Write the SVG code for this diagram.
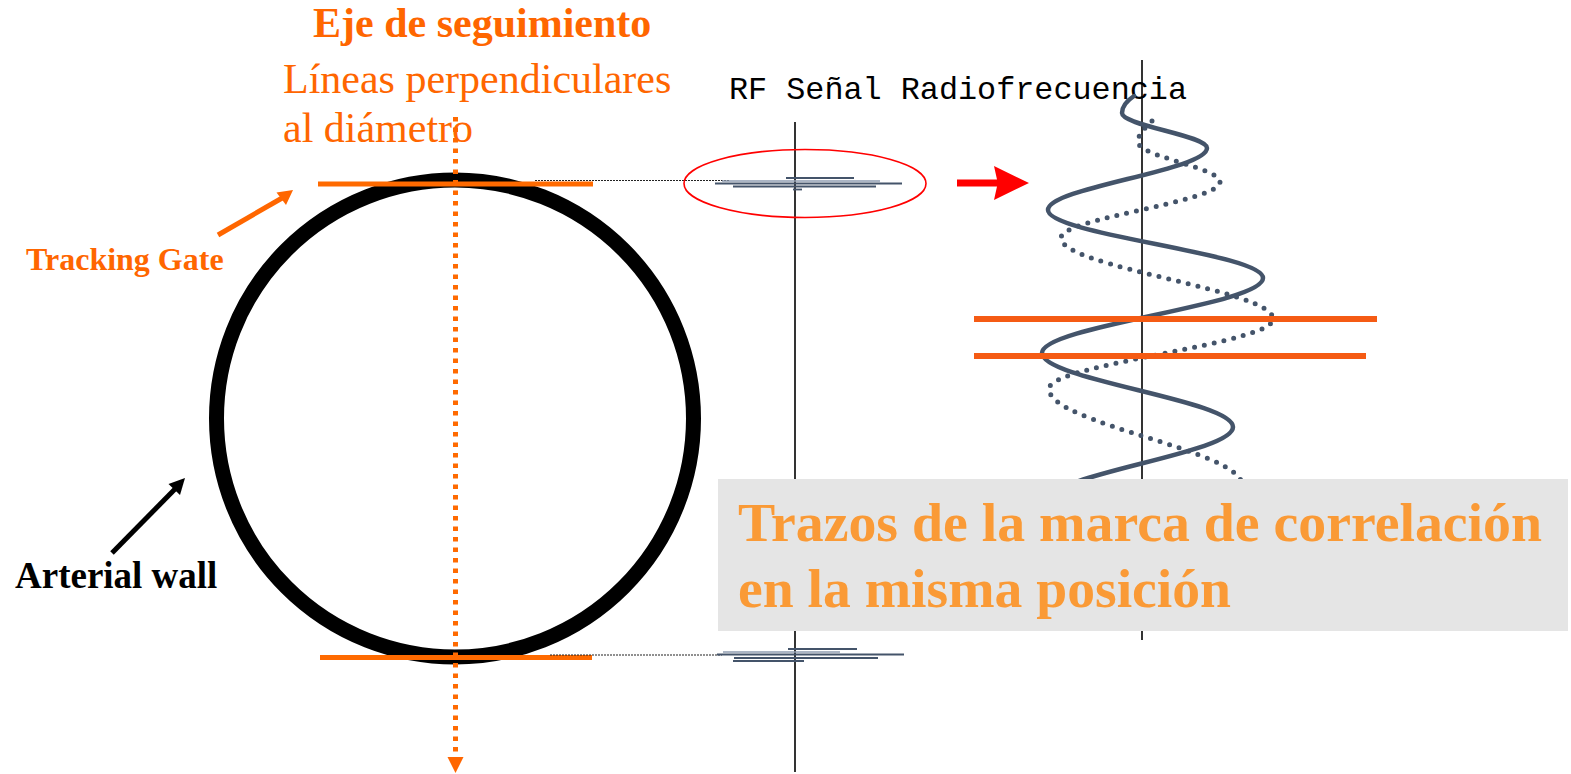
<svg xmlns="http://www.w3.org/2000/svg" width="1571" height="774" viewBox="0 0 1571 774">
<style>
.serif{font-family:"Liberation Serif","Times New Roman",serif}
.bold{font-weight:bold}
.org{fill:#ff6600}
.gate{stroke:#ff6a00;stroke-width:5;fill:none}
.gate2{stroke:#f55b14;stroke-width:6;fill:none}
.axis{stroke:#000;stroke-width:1.6;fill:none}
.thin{stroke:#222;stroke-width:1.2;stroke-dasharray:2 1;fill:none}
.rf{stroke:#44546a;stroke-width:1.8;fill:none}
.rfl{stroke:#8f9db0;stroke-width:1.6;fill:none}
.wave{stroke:#44546a;stroke-width:4.5;fill:none;stroke-linecap:round}
.dots{stroke:#44546a;stroke-width:5;fill:none;stroke-linecap:round;stroke-dasharray:0 10}
</style>
<defs>
<marker id="mOrange" markerWidth="4" markerHeight="4" refX="1" refY="2" orient="auto" markerUnits="strokeWidth"><path d="M0,0 L4,2 L0,4 z" fill="#ff6600"/></marker>
</defs>
<rect width="1571" height="774" fill="#fff"/>

<g id="artery">
<circle cx="455" cy="418.5" r="238.5" fill="none" stroke="#000" stroke-width="15"/>
</g>

<g id="gates-left">
<line class="gate" x1="318" y1="184" x2="593" y2="184"/>
<line class="gate" x1="320" y1="657.5" x2="592" y2="657.5"/>
</g>

<g id="connectors">
<line x1="455.5" y1="117" x2="455.5" y2="757" stroke="#ff6a00" stroke-width="5" stroke-dasharray="4.5 6"/>
<polygon points="447.5,757 463.5,757 455.5,773" fill="#ff6600"/>
<line class="thin" x1="535" y1="180.5" x2="730" y2="180.5"/>
<line class="thin" x1="550" y1="655" x2="722" y2="655"/>
<line x1="218" y1="235" x2="283" y2="197.5" stroke="#ff6600" stroke-width="5"/>
<polygon points="293,190 276.5,192.5 286,205" fill="#ff6600"/>
<line x1="112" y1="553" x2="177" y2="487" stroke="#000" stroke-width="5"/>
<polygon points="185,478 168.5,484 180,495" fill="#000"/>
<polygon points="957,179.5 997,179.5 994,166 1029,183 994,200 997,186.5 957,186.5" fill="#ff0000"/>
</g>

<g id="labels">
<text class="serif bold org" x="313" y="37" font-size="42">Eje de seguimiento</text>
<text class="serif org" x="283" y="93" font-size="42">Líneas perpendiculares</text>
<text class="serif org" x="283" y="142" font-size="42">al diámetro</text>
<text class="serif bold org" x="26" y="270" font-size="32">Tracking Gate</text>
<text class="serif bold" x="15" y="588" font-size="37" fill="#000">Arterial wall</text>
<text x="729" y="99" font-size="32" font-family="'Liberation Mono','Courier New',monospace" fill="#000" textLength="458" lengthAdjust="spacingAndGlyphs">RF Señal Radiofrecuencia</text>
</g>

<g id="rf-signal">
<line class="axis" x1="795" y1="122" x2="795" y2="772"/>
<line class="rfl" x1="722" y1="181" x2="880" y2="181"/>
<line class="rf" x1="786" y1="178" x2="854" y2="178"/>
<line class="rf" x1="715" y1="183.5" x2="902" y2="183.5"/>
<line class="rf" x1="733" y1="186.5" x2="876" y2="186.5"/>
<line class="rf" x1="793" y1="189.5" x2="802" y2="189.5"/>
<ellipse cx="805" cy="183.5" rx="121" ry="34" fill="none" stroke="#ff0000" stroke-width="1.6"/>
<line class="rfl" x1="723" y1="652" x2="840" y2="652"/>
<line class="rf" x1="788" y1="649" x2="857" y2="649"/>
<line class="rf" x1="717" y1="654.5" x2="904" y2="654.5"/>
<line class="rf" x1="734" y1="658" x2="878" y2="658"/>
<line class="rf" x1="733" y1="661" x2="804" y2="661"/>
</g>

<g id="waves">
<line class="axis" x1="1142" y1="60" x2="1142" y2="640"/>
<path class="dots" d="M1152,121 C1145,128 1138,134 1138,142 C1138,156.5 1220,167.5 1220,182 C1220,202.3 1061,217.7 1061,238 C1061,267.4 1273,289.6 1273,319 C1273,344.4 1049,363.6 1049,389 C1049,423.8 1242,450.2 1242,485"/>
<path class="wave" d="M1134,96 C1125,102 1122,108 1122,113 C1122,125.7 1207,135.3 1207,148 C1207,170.5 1048,187.5 1048,210 C1048,234.7 1263,253.3 1263,278 C1263,305.2 1042,325.8 1042,353 C1042,379.9 1233,400.1 1233,427 C1233,453.5 1050,473.5 1050,500"/>
<line class="gate2" x1="974" y1="319" x2="1377" y2="319"/>
<line class="gate2" x1="974" y1="356" x2="1366" y2="356"/>
</g>

<g id="note">
<rect x="718" y="479" width="850" height="152" fill="#e5e5e5"/>
<text class="serif bold" x="738" y="541" font-size="55" fill="#fa9a36" textLength="804" lengthAdjust="spacingAndGlyphs">Trazos de la marca de correlación</text>
<text class="serif bold" x="738" y="607" font-size="55" fill="#fa9a36" textLength="493" lengthAdjust="spacingAndGlyphs">en la misma posición</text>
</g>
</svg>
